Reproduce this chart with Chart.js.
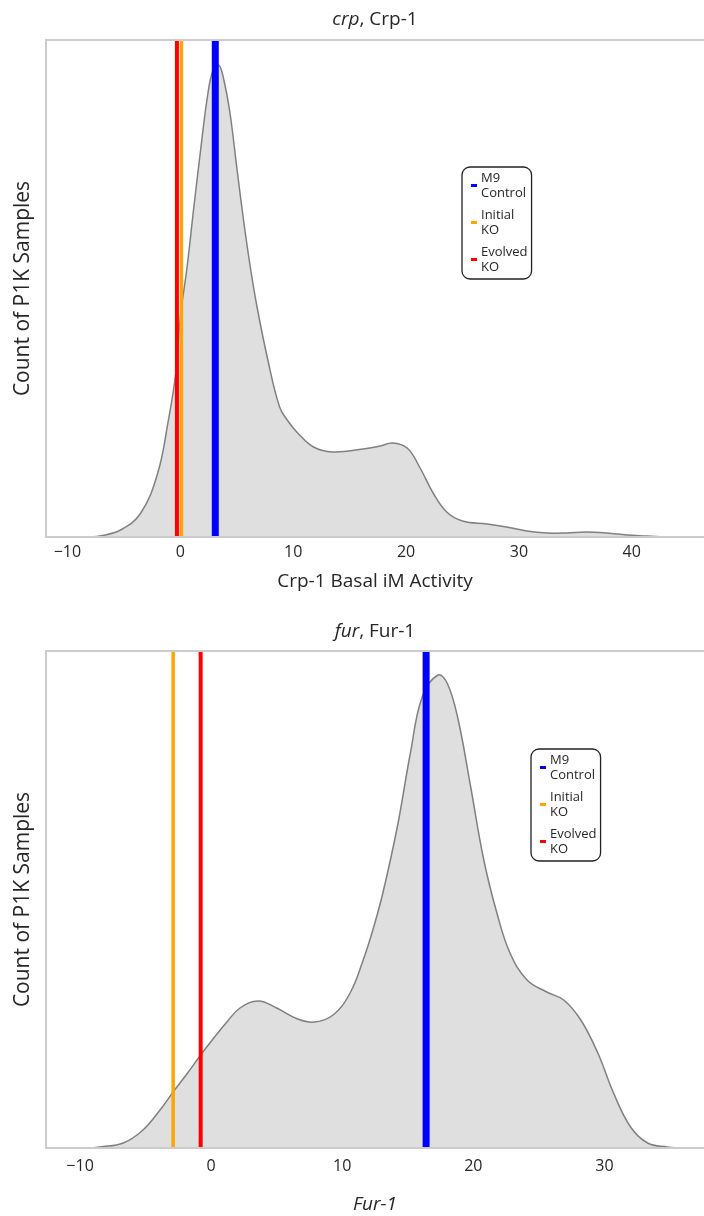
<!DOCTYPE html>
<html>
<head>
<meta charset="utf-8">
<title>crp / fur iModulon activity</title>
<script src="https://cdn.jsdelivr.net/npm/chart.js@4.4.0/dist/chart.umd.min.js"></script>
<style>
  html, body { margin: 0; padding: 0; background: #fff; }
  .box { position: relative; width: 704px; }
  #crp-box { height: 611px; }
  #fur-box { height: 605px; }
</style>
</head>
<body>
<div class="box" id="crp-box"><canvas id="crp-chart"></canvas></div>
<div class="box" id="fur-box"><canvas id="fur-chart"></canvas></div>
<script>
(function () {
    "use strict";

    // Series names for the marker lines
    var markerLabels = ["M9 Control", "Initial KO", "Evolved KO"];
    var markerColors = ["#0000ff", "#ffa500", "#ff0000"];

    // crp, Crp-1 : density of P1K samples (arbitrary units)
    var crpX = [-8.1, -7.1, -5.3, -3.5, -2.0, -1.1, -0.4, 0.0, 0.6, 1.2,
                1.8, 2.4, 2.9, 3.4, 3.8, 4.4, 5.0, 5.6, 6.2, 6.8,
                7.7, 8.8, 9.6, 10.4, 11.8, 13.5, 16.2, 17.7, 18.8, 20.1, 21.2,
                22.4, 23.6, 25.0, 27.2, 28.9, 30.7, 32.5, 34.2, 36.0, 37.8,
                39.6, 41.3, 42.9];
    var crpY = [0, 1, 7, 24, 64, 114, 164, 220, 270, 330,
                387, 440, 467, 472, 460, 424, 370, 317, 270, 230,
                180, 130, 115, 104, 90, 85, 88, 91, 94, 89, 70,
                44, 25, 16, 13, 10, 6, 4, 4, 5, 4,
                2, 1, 0];
    var crpMarkers = [3.1, 0.1, -0.3];   // M9, Initial KO, Evolved KO
    var crpTicks = [-10, 0, 10, 20, 30, 40];

    // fur, Fur-1
    var furX = [-9.2, -8.5, -6.7, -5.2, -3.9, -2.9, -1.8, -0.8, 0.2, 1.2,
                2.2, 3.6, 5.0, 6.6, 7.9, 9.3, 10.6, 11.6, 12.4, 13.1,
                14.2, 15.2, 16.1, 17.3, 18.0, 18.8, 19.8, 20.8, 21.8, 22.8,
                24.1, 25.6, 26.9, 28.2, 29.5, 30.7, 32.0, 33.3, 34.8, 35.8];
    var furY = [0, 1, 5, 18, 38, 56, 75, 93, 110, 126,
                140, 147, 140, 129, 126, 133, 155, 188, 221, 255,
                321, 395, 451, 473, 465, 431, 361, 288, 235, 195,
                168, 156, 148, 128, 95, 55, 21, 5, 1, 0];
    var furMarkers = [16.4, -2.9, -0.8];
    var furTicks = [-10, 0, 10, 20, 30];

    var yMax = 497;
    var FONT = "'Open Sans', 'Noto Sans', sans-serif";
    var TEXT = "#262626";

    // frame: top, left and bottom edge of the plot area
    var framePlugin = {
        id: "frame",
        afterDatasetsDraw: function (chart) {
            var a = chart.chartArea, ctx = chart.ctx;
            ctx.save();
            ctx.strokeStyle = "#cccccc";
            ctx.lineWidth = 2;
            ctx.beginPath();
            ctx.moveTo(a.right + 2, a.top);
            ctx.lineTo(a.left, a.top);
            ctx.lineTo(a.left, a.bottom);
            ctx.lineTo(a.right + 2, a.bottom);
            ctx.stroke();
            ctx.restore();
        }
    };

    // title with italic gene name
    var titlePlugin = {
        id: "geneTitle",
        afterDraw: function (chart, args, opts) {
            var ctx = chart.ctx, a = chart.chartArea;
            var f1 = "italic 19px " + FONT, f2 = "19px " + FONT;
            ctx.save();
            ctx.font = f1;
            var w1 = ctx.measureText(opts.gene).width;
            ctx.font = f2;
            var w2 = ctx.measureText(opts.rest).width;
            var x = (a.left + a.right) / 2 - (w1 + w2) / 2;
            ctx.fillStyle = TEXT;
            ctx.textBaseline = "middle";
            ctx.font = f1;
            ctx.fillText(opts.gene, x, opts.y);
            ctx.font = f2;
            ctx.fillText(opts.rest, x + w1, opts.y);
            ctx.restore();
        }
    };

    // boxed legend with two-line labels
    var boxLegendPlugin = {
        id: "boxLegend",
        afterDraw: function (chart, args, opts) {
            var ctx = chart.ctx;
            var left = opts.left, top = opts.top;
            ctx.save();
            ctx.font = "13px " + FONT;
            var maxW = 0;
            markerLabels.forEach(function (l) {
                l.split(" ").forEach(function (p) {
                    maxW = Math.max(maxW, ctx.measureText(p).width);
                });
            });
            var w = 19 + maxW + 4, h = 112, r = 8;
            ctx.beginPath();
            ctx.moveTo(left + r, top);
            ctx.arcTo(left + w, top, left + w, top + h, r);
            ctx.arcTo(left + w, top + h, left, top + h, r);
            ctx.arcTo(left, top + h, left, top, r);
            ctx.arcTo(left, top, left + w, top, r);
            ctx.closePath();
            ctx.fillStyle = "#ffffff";
            ctx.fill();
            ctx.strokeStyle = "#222222";
            ctx.lineWidth = 1.3;
            ctx.stroke();
            ctx.textBaseline = "middle";
            markerLabels.forEach(function (l, i) {
                var parts = l.split(" ");
                var y0 = top + 11 + i * 37;
                ctx.fillStyle = markerColors[i];
                ctx.fillRect(left + 9, y0 + 6, 6, 3);
                ctx.fillStyle = TEXT;
                ctx.fillText(parts[0], left + 19, y0);
                ctx.fillText(parts[1], left + 19, y0 + 15);
            });
            ctx.restore();
        }
    };

    function fmtTick(v) {
        return v < 0 ? "\u2212" + Math.abs(v) : String(v);
    }

    function makeChart(id, cfg) {
        var datasets = [{
            data: cfg.xs.map(function (x, i) { return {x: x, y: cfg.ys[i]}; }),
            borderColor: "#808080",
            borderWidth: 1.5,
            backgroundColor: "#dfdfdf",
            fill: "origin",
            pointRadius: 0,
            tension: 0.4,
            order: 10
        }];
        var widths = [7, 3.5, 4];
        cfg.markers.forEach(function (v, i) {
            datasets.push({
                label: markerLabels[i],
                data: [{x: v, y: 0}, {x: v, y: yMax}],
                borderColor: markerColors[i],
                borderWidth: widths[i],
                borderCapStyle: "butt",
                pointRadius: 0,
                fill: false,
                order: 3 - i
            });
        });

        var ctx = document.getElementById(id).getContext("2d");
        return new Chart(ctx, {
            type: "line",
            data: {datasets: datasets},
            options: {
                responsive: true,
                maintainAspectRatio: false,
                animation: false,
                layout: {padding: {top: 40, left: 0, right: 0, bottom: 0}},
                plugins: {
                    legend: {display: false},
                    tooltip: {enabled: false},
                    geneTitle: {gene: cfg.gene, rest: cfg.rest, y: cfg.titleY},
                    boxLegend: {left: cfg.legLeft, top: cfg.legTop}
                },
                scales: {
                    x: {
                        type: "linear",
                        min: cfg.range[0],
                        max: cfg.range[1],
                        grid: {display: false, drawTicks: false},
                        border: {display: false},
                        afterBuildTicks: function (s) {
                            s.ticks = cfg.ticks.map(function (v) { return {value: v}; });
                        },
                        afterFit: function (s) { s.height = cfg.xHeight; },
                        ticks: {
                            padding: cfg.tickPad,
                            color: TEXT,
                            font: {family: FONT, size: 16},
                            maxRotation: 0,
                            autoSkip: false,
                            callback: fmtTick
                        },
                        title: {
                            display: true,
                            text: cfg.xTitle,
                            color: TEXT,
                            font: {family: FONT, size: 19, style: cfg.xItalic ? "italic" : "normal"},
                            padding: {top: 0, bottom: cfg.xTitlePad}
                        }
                    },
                    y: {
                        min: 0,
                        max: yMax,
                        grid: {display: false, drawTicks: false},
                        border: {display: false},
                        ticks: {display: false},
                        afterFit: function (s) { s.width = 46; },
                        title: {
                            display: true,
                            text: "Count of P1K Samples",
                            color: TEXT,
                            font: {family: FONT, size: 21},
                            padding: {top: 10, bottom: 0}
                        }
                    }
                }
            },
            plugins: [framePlugin, titlePlugin, boxLegendPlugin]
        });
    }

    // crp, Crp-1
    makeChart("crp-chart", {
        xs: crpX, ys: crpY, markers: crpMarkers, ticks: crpTicks,
        range: [-11.9, 46.4],
        gene: "crp", rest: ", Crp-1", titleY: 20,
        xTitle: "Crp-1 Basal iM Activity", xItalic: false,
        xHeight: 74, tickPad: 6, xTitlePad: 18,
        legLeft: 462, legTop: 167
    });

    // fur, Fur-1
    makeChart("fur-chart", {
        xs: furX, ys: furY, markers: furMarkers, ticks: furTicks,
        range: [-12.6, 37.6],
        gene: "fur", rest: ", Fur-1", titleY: 21,
        xTitle: "Fur-1", xItalic: true,
        xHeight: 68, tickPad: 9, xTitlePad: 0,
        legLeft: 531, legTop: 138
    });
})();
</script>
</body>
</html>
